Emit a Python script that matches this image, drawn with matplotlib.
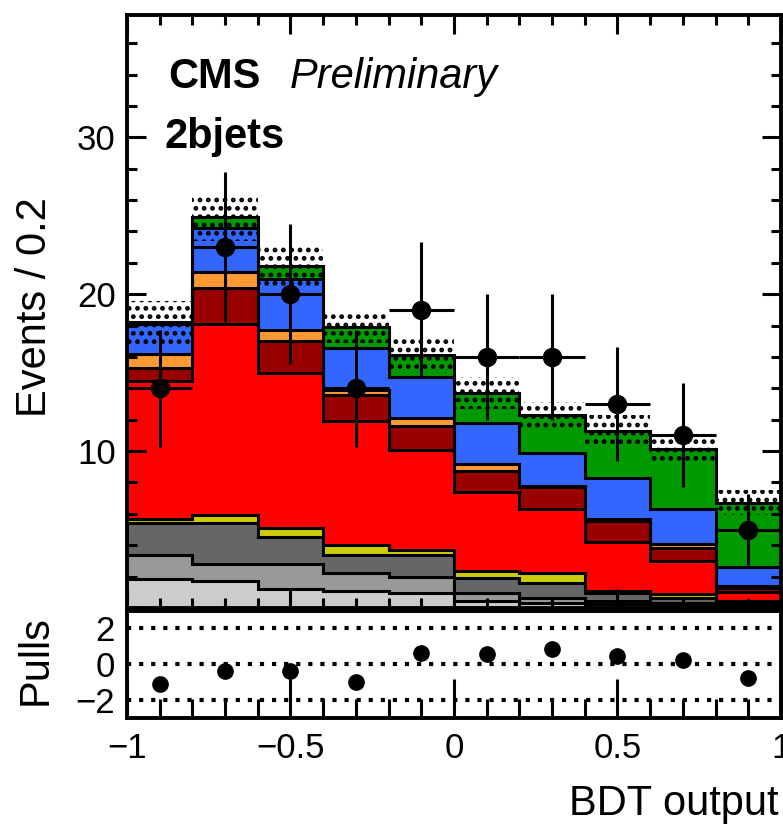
import numpy as np
import matplotlib
matplotlib.use("Agg")
import matplotlib.pyplot as plt
from matplotlib.ticker import MultipleLocator

plt.rcParams['font.family'] = ['Liberation Sans', 'DejaVu Sans']
plt.rcParams['hatch.linewidth'] = 2.2

# BDT output binning
bin_edges = [-1.0, -0.8, -0.6, -0.4, -0.2, 0.0, 0.2, 0.4, 0.6, 0.8, 1.0]

# stacked yields per bin, bottom -> top
bkg_lightgray = [1.85, 1.7, 1.2, 1.1, 0.95, 0.45, 0.3, 0.25, 0.2, 0.1]
bkg_midgray = [1.55, 1.1, 1.6, 1.1, 1.05, 0.5, 0.35, 0.2, 0.15, 0.1]
bkg_darkgray = [2.0, 2.6, 1.7, 1.2, 1.4, 0.95, 0.95, 0.5, 0.3, 0.15]
bkg_yellow = [0.3, 0.5, 0.6, 0.6, 0.3, 0.45, 0.65, 0.15, 0.25, 0.1]
bkg_red = [8.8, 12.2, 9.9, 7.9, 6.4, 5.05, 4.05, 3.1, 2.1, 0.55]
bkg_darkred = [0.8, 2.3, 2.05, 1.65, 1.5, 1.35, 1.4, 1.35, 0.85, 0.3]
bkg_orange = [0.9, 1.0, 0.7, 0.35, 0.5, 0.4, 0.1, 0.15, 0.25, 0.1]
bkg_blue = [1.9, 2.8, 3.25, 2.7, 2.6, 2.65, 2.1, 2.6, 2.2, 1.2]
sig_green = [0.1, 0.7, 0.8, 1.3, 1.4, 1.9, 2.4, 3.0, 3.85, 4.1]

# total uncertainty on the stack
stack_unc = [1.4, 1.5, 1.35, 1.0, 1.1, 1.0, 0.8, 1.0, 0.85, 0.8]

# observed data
data_counts = [14, 23, 20, 14, 19, 16, 16, 13, 11, 5]
pulls = [-1.1, -0.4, -0.4, -1.0, 0.6, 0.55, 0.85, 0.45, 0.2, -0.8]

components = [
    (bkg_lightgray, '#cccccc'),
    (bkg_midgray, '#999999'),
    (bkg_darkgray, '#666666'),
    (bkg_yellow, '#cccc00'),
    (bkg_red, '#ff0000'),
    (bkg_darkred, '#990000'),
    (bkg_orange, '#ff9933'),
    (bkg_blue, '#3366ff'),
    (sig_green, '#009900'),
]

edges = np.array(bin_edges)
centers = 0.5 * (edges[1:] + edges[:-1])
half_w = 0.5 * np.diff(edges)

fig = plt.figure(figsize=(7.83, 8.27), dpi=100)
ax = fig.add_axes([0.1622, 0.2648, 0.8352, 0.7171])
axp = fig.add_axes([0.1622, 0.1318, 0.8352, 0.1294])

# stacked histograms
bottom = np.zeros(len(centers))
tops = []
for vals, col in components:
    top = bottom + np.array(vals)
    ax.stairs(top, edges, baseline=bottom, fill=True, color=col, linewidth=0, zorder=1)
    tops.append(top)
    bottom = top
total = bottom
unc = np.array(stack_unc)

# uncertainty band
ax.stairs(total + unc, edges, baseline=total - unc, fill=True, facecolor='none',
          edgecolor='black', hatch='..', linewidth=0, zorder=2)

for top in tops:
    ax.stairs(top, edges, baseline=None, color='black', linewidth=2.2, zorder=3)

# data
data = np.array(data_counts, dtype=float)
ax.errorbar(centers, data, yerr=np.sqrt(data), xerr=half_w, fmt='o', color='black',
            markersize=13, elinewidth=2.2, capsize=0, zorder=5)

ax.set_xlim(-1, 1)
ax.set_ylim(0, 37.8)
ax.yaxis.set_major_locator(MultipleLocator(10))
ax.yaxis.set_minor_locator(MultipleLocator(2))
ax.xaxis.set_major_locator(MultipleLocator(0.5))
ax.xaxis.set_minor_locator(MultipleLocator(0.1))
ax.tick_params(which='both', direction='in', top=True, right=True, width=2.2)
ax.tick_params(which='major', length=14, labelsize=25, pad=8)
ax.tick_params(which='minor', length=7)
ax.set_xticklabels([])
ax.set_yticks([10, 20, 30])
for s in ax.spines.values():
    s.set_linewidth(2.8)

# pulls panel
axp.plot(centers, pulls, 'o', color='black', markersize=11, zorder=5)
for yv in (-2, 0, 2):
    axp.axhline(yv, color='black', linestyle=(0, (1, 1.9)), linewidth=3, zorder=1)
axp.set_xlim(-1, 1)
axp.set_ylim(-3, 2.95)
axp.set_yticks([-2, 0, 2])
axp.set_yticklabels(['\u22122', '0', '2'])
axp.xaxis.set_major_locator(MultipleLocator(0.5))
axp.xaxis.set_minor_locator(MultipleLocator(0.1))
axp.set_xticks([-1, -0.5, 0, 0.5, 1])
axp.set_xticklabels(['\u22121', '\u22120.5', '0', '0.5', '1'])
axp.tick_params(which='both', direction='in', width=2.2)
axp.tick_params(axis='x', which='major', length=28, labelsize=25, pad=10)
axp.tick_params(axis='x', which='minor', length=14)
axp.tick_params(axis='y', which='major', length=0, labelsize=25, pad=9)
for s in axp.spines.values():
    s.set_linewidth(2.8)

# text
fig.text(0.045, 0.762, 'Events / 0.2', rotation=90, ha='center', va='top', fontsize=30)
fig.text(0.045, 1 - 660 / 827, 'Pulls', rotation=90, ha='center', va='center', fontsize=30)
fig.text(0.994, 1 - 815 / 827, 'BDT output', ha='right', va='baseline', fontsize=30)
fig.text(168 / 783, 1 - 88 / 827, 'CMS', ha='left', va='baseline', fontsize=30, fontweight='bold')
fig.text(290 / 783, 1 - 88 / 827, 'Preliminary', ha='left', va='baseline', fontsize=30, fontstyle='italic')
fig.text(165 / 783, 1 - 148 / 827, '2bjets', ha='left', va='baseline', fontsize=30, fontweight='bold')

fig.savefig('out.png', dpi=100)
